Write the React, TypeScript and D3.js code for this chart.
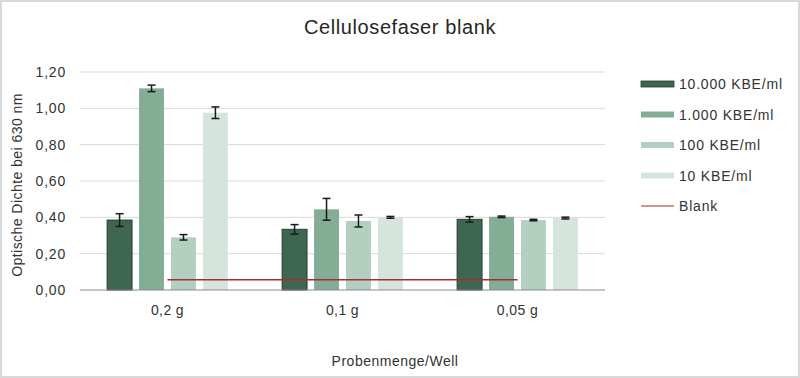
import React from "react";
import * as d3 from "d3";

const categories = ["0,2 g", "0,1 g", "0,05 g"];
const seriesNames = ["10.000 KBE/ml", "1.000 KBE/ml", "100 KBE/ml", "10 KBE/ml"];
const seriesValues = [
  [0.385, 0.334, 0.389],
  [1.11, 0.444, 0.403],
  [0.29, 0.38, 0.385],
  [0.976, 0.4, 0.396],
];
const seriesErrors = [
  [0.035, 0.026, 0.015],
  [0.018, 0.06, 0.004],
  [0.015, 0.033, 0.004],
  [0.032, 0.005, 0.005],
];
const blankName = "Blank";
const blankValues = [0.057, 0.057, 0.057];
const yTicks = [0, 0.2, 0.4, 0.6, 0.8, 1.0, 1.2];

const fills = ["#3f6650", "#84ad96", "#b3cfc0", "#d6e5dc"];
const strokes = ["#243f30", "#84ad96", "#b3cfc0", "#d6e5dc"];
const blankColor = "#a3302f";
const font = "'Liberation Sans', Arial, sans-serif";
const textColor = "#333333";

export default function App() {
  const W = 800, H = 378;
  const left = 80, right = 605, top = 72, bottom = 290;
  const x = d3.scaleBand().domain(categories).range([left, right]).paddingInner(0.31).paddingOuter(0.155);
  const inner = d3.scaleBand().domain(seriesNames).range([0, x.bandwidth()]).paddingInner(0.22);
  const y = d3.scaleLinear().domain([0, 1.2]).range([bottom, top]);
  const fmt = (v: number) => v.toFixed(2).replace(".", ",");
  const line = d3.line<number>()
    .x((_, i) => (x(categories[i]) as number) + x.bandwidth() / 2)
    .y((d) => y(d));

  return (
    <svg width={W} height={H} style={{ position: "absolute", left: 0, top: 0 }} fontFamily={font}>
      <rect x={0} y={0} width={W} height={H} fill="#fff" />
      <rect x={1} y={1} width={W - 2} height={H - 2} fill="none" stroke="#d9d9d9" strokeWidth={2} />
      <text x={400} y={34} textAnchor="middle" fontSize={20} letterSpacing={0.6} fill="#262626">Cellulosefaser blank</text>
      {yTicks.map((t) => (
        <g key={t}>
          {t > 0 && <line x1={left} x2={right} y1={y(t)} y2={y(t)} stroke="#d9d9d9" strokeWidth={1} />}
          <text x={66} y={y(t) + 5} textAnchor="end" fontSize={14} letterSpacing={0.8} fill={textColor}>{fmt(t)}</text>
        </g>
      ))}
      {seriesNames.map((s, si) => (
        <g key={s}>
          {categories.map((c, ci) => {
            const bx = (x(c) as number) + (inner(s) as number);
            const v = seriesValues[si][ci];
            return (
              <rect key={c} x={bx} y={y(v)} width={inner.bandwidth()} height={bottom - y(v)}
                fill={fills[si]} stroke={strokes[si]} strokeWidth={si === 0 ? 1 : 0} />
            );
          })}
        </g>
      ))}
      <line x1={left} x2={right} y1={bottom} y2={bottom} stroke="#8c8c8c" strokeWidth={1.2} />
      <path d={line(blankValues) || ""} fill="none" stroke={blankColor} strokeWidth={1.5} />
      {seriesNames.map((s, si) => (
        <g key={s + "e"}>
          {categories.map((c, ci) => {
            const cx = (x(c) as number) + (inner(s) as number) + inner.bandwidth() / 2;
            const v = seriesValues[si][ci];
            const e = seriesErrors[si][ci];
            return (
              <g key={c} stroke="#1a1a1a" strokeWidth={1.5}>
                <line x1={cx} x2={cx} y1={y(v + e)} y2={y(v - e)} />
                <line x1={cx - 4} x2={cx + 4} y1={y(v + e)} y2={y(v + e)} />
                <line x1={cx - 4} x2={cx + 4} y1={y(v - e)} y2={y(v - e)} />
              </g>
            );
          })}
        </g>
      ))}
      {categories.map((c) => (
        <text key={c} x={(x(c) as number) + x.bandwidth() / 2} y={315} textAnchor="middle" fontSize={14} letterSpacing={0.4} fill={textColor}>{c}</text>
      ))}
      <text x={395} y={366} textAnchor="middle" fontSize={14} letterSpacing={0.5} fill={textColor}>Probenmenge/Well</text>
      <text transform="translate(21.5,185) rotate(-90)" textAnchor="middle" fontSize={14} letterSpacing={0.45} fill={textColor}>Optische Dichte bei 630 nm</text>
      {seriesNames.map((s, i) => (
        <g key={s + "l"} transform={`translate(641,${84 + i * 30.5})`}>
          <rect x={0} y={-3} width={33} height={6} fill={fills[i]} stroke={strokes[i]} strokeWidth={i === 0 ? 0.8 : 0} />
          <text x={38} y={5} fontSize={14} letterSpacing={0.8} fill={textColor}>{s}</text>
        </g>
      ))}
      <g transform={`translate(641,${84 + 4 * 30.5})`}>
        <line x1={0} x2={33} y1={0} y2={0} stroke={blankColor} strokeWidth={1.2} />
        <text x={38} y={5} fontSize={14} letterSpacing={0.8} fill={textColor}>{blankName}</text>
      </g>
    </svg>
  );
}
